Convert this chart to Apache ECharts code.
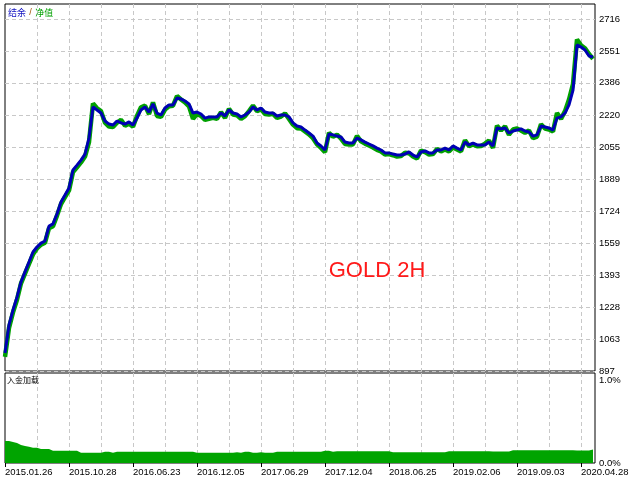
<!DOCTYPE html>
<html><head><meta charset="utf-8">
<script src="https://cdn.jsdelivr.net/npm/echarts@6/dist/echarts.min.js"></script>
<style>html,body{margin:0;padding:0;background:#fff}#c{width:640px;height:480px}</style>
</head><body><div id="c"></div>
<script>
// ---- data ----
const dateLabels = ['2015.01.26','2015.10.28','2016.06.23','2016.12.05','2017.06.29','2017.12.04','2018.06.25','2019.02.06','2019.09.03','2020.04.28'];
const priceTicks = [897,1063,1228,1393,1559,1724,1889,2055,2220,2386,2551,2716];
const loadTicks = [0, 1.0];
const balance = [
 990,1135,1212,1279,1357,1409,1460,1512,1538,1558,1569,1646,1657,1708,1770,1806,1843,1936,1961,1987,
 2018,2101,2261,2246,2230,2189,2173,2168,2189,2179,2173,2184,2168,2204,2246,2261,2235,2277,2230,2220,
 2256,2272,2272,2308,2303,2292,2277,2230,2235,2225,2204,2210,2210,2210,2230,2215,2246,2230,2225,2210,
 2220,2235,2261,2246,2256,2235,2230,2230,2215,2220,2220,2210,2179,2163,2158,2142,2127,2111,2075,2060,
 2039,2122,2117,2111,2106,2080,2075,2075,2101,2091,2080,2070,2060,2049,2039,2024,2024,2018,2013,2013,
 2018,2029,2013,2003,2029,2034,2024,2024,2039,2039,2049,2039,2060,2049,2039,2080,2065,2075,2065,2065,
 2065,2080,2060,2153,2148,2153,2127,2137,2142,2148,2137,2132,2111,2117,2163,2158,2153,2142,2204,2210,
 2230,2272,2349,2582,2571,2556,2525,2520];
const equity = [
 970,1120,1200,1265,1350,1400,1450,1500,1530,1550,1560,1635,1645,1700,1760,1795,1830,1925,1950,1975,
 2005,2080,2280,2255,2240,2180,2160,2158,2180,2195,2165,2175,2160,2215,2260,2268,2225,2285,2215,2210,
 2248,2265,2268,2318,2300,2285,2265,2200,2225,2215,2195,2200,2205,2200,2235,2205,2252,2222,2218,2200,
 2214,2240,2268,2240,2250,2225,2222,2226,2205,2212,2228,2200,2170,2152,2150,2135,2120,2100,2068,2050,
 2028,2128,2108,2118,2098,2070,2068,2068,2112,2084,2072,2062,2052,2040,2032,2016,2018,2012,2005,2008,
 2025,2022,2005,1995,2036,2028,2016,2018,2045,2032,2042,2032,2052,2042,2032,2090,2058,2068,2058,2060,
 2072,2088,2050,2165,2140,2162,2118,2145,2150,2140,2128,2140,2100,2108,2172,2150,2145,2135,2230,2200,
 2240,2300,2380,2610,2580,2565,2535,2510];
const depositLoad = [
 0.265,0.253,0.241,0.217,0.205,0.196,0.184,0.184,0.169,0.169,0.169,0.148,0.148,0.148,0.148,0.148,0.148,0.148,0.124,0.124,
 0.124,0.124,0.124,0.124,0.136,0.136,0.124,0.136,0.136,0.136,0.136,0.136,0.136,0.136,0.136,0.136,0.136,0.136,0.136,0.136,
 0.136,0.136,0.136,0.136,0.136,0.136,0.136,0.124,0.124,0.124,0.124,0.124,0.124,0.124,0.124,0.124,0.124,0.130,0.124,0.136,
 0.136,0.124,0.124,0.130,0.124,0.124,0.124,0.136,0.136,0.136,0.136,0.136,0.136,0.136,0.136,0.136,0.136,0.136,0.136,0.148,
 0.148,0.136,0.142,0.142,0.142,0.142,0.142,0.142,0.142,0.142,0.142,0.142,0.142,0.142,0.142,0.142,0.130,0.130,0.130,0.130,
 0.130,0.130,0.130,0.130,0.130,0.130,0.130,0.130,0.130,0.130,0.142,0.142,0.142,0.142,0.142,0.142,0.142,0.142,0.142,0.142,
 0.142,0.138,0.138,0.138,0.138,0.138,0.155,0.155,0.155,0.155,0.155,0.155,0.155,0.155,0.155,0.155,0.155,0.155,0.155,0.155,
 0.155,0.155,0.152,0.152,0.152,0.152,0.163,0.163];

// ---- chart ----
const STEP = 2;                       // category slots per data point
const slotCount = (balance.length - 1) * STEP + 2;
const slots = Array.from({length: slotCount}, (_, k) => String(k));
const pairs = arr => arr.map((v, i) => [i * STEP, v]);

const FONT = 'Liberation Sans';
const gridLine = {show: true, interval: (i) => i % 16 === 0 && i > 0, lineStyle: {type: [4, 3], color: '#c8c8c8', width: 1}};

const chart = echarts.init(document.getElementById('c'), null, {renderer: 'canvas'});
chart.setOption({
  animation: false,
  backgroundColor: '#fff',
  grid: [
    {left: 5, right: 45, top: 4, height: 367, show: true, borderColor: '#000', borderWidth: 1, backgroundColor: 'transparent'},
    {left: 5, right: 45, top: 373, height: 90, show: true, borderColor: '#000', borderWidth: 1, backgroundColor: 'transparent'}
  ],
  xAxis: [
    {gridIndex: 0, type: 'category', data: slots, boundaryGap: false,
     axisLine: {show: false}, axisTick: {show: false}, axisLabel: {show: false}, splitLine: gridLine},
    {gridIndex: 1, type: 'category', data: slots, boundaryGap: false,
     axisLine: {show: false},
     axisTick: {show: true, interval: (i) => i % 32 === 0, length: 4, lineStyle: {color: '#000'}},
     axisLabel: {show: true, interval: (i) => i % 32 === 0, align: 'left', margin: 4,
                 color: '#000', fontSize: 9.5, fontFamily: FONT,
                 formatter: (v) => dateLabels[Number(v) / 32] || ''},
     splitLine: gridLine}
  ],
  yAxis: [
    {gridIndex: 0, type: 'value', position: 'right', min: 897, max: 2793.5,
     axisLine: {show: false},
     axisTick: {show: false, customValues: priceTicks},
     axisLabel: {customValues: priceTicks, margin: 4, color: '#000', fontSize: 9.5, fontFamily: FONT,
                 formatter: (v) => String(Math.round(v))},
     splitLine: {show: true, lineStyle: {type: [4, 3], color: '#c8c8c8', width: 1}}},
    {gridIndex: 1, type: 'value', position: 'right', min: 0, max: 1.084,
     axisLine: {show: false},
     axisTick: {show: false, customValues: loadTicks},
     axisLabel: {customValues: loadTicks, margin: 4, color: '#000', fontSize: 9.5, fontFamily: FONT,
                 formatter: (v) => v.toFixed(1) + '%'},
     splitLine: {show: false}}
  ],
  series: [
    {name: '净值', type: 'line', xAxisIndex: 0, yAxisIndex: 0, data: pairs(equity),
     symbol: 'none', lineStyle: {color: '#00a000', width: 4.5}, z: 2},
    {name: '结余', type: 'line', xAxisIndex: 0, yAxisIndex: 0, data: pairs(balance),
     symbol: 'none', lineStyle: {color: '#0000b4', width: 3}, z: 3},
    {name: '入金加载', type: 'line', xAxisIndex: 1, yAxisIndex: 1, data: pairs(depositLoad),
     step: 'end', symbol: 'none', lineStyle: {width: 0}, areaStyle: {color: '#00a400', opacity: 1}, z: 2}
  ],
  graphic: [
    {type: 'text', left: 8, top: 7, z: 10, style: {
      text: '{b|结余} {s|/} {g|净值}',
      rich: {
        b: {fill: '#1010c0', fontSize: 9, fontFamily: 'Noto Sans CJK SC'},
        s: {fill: '#a05000', fontSize: 9, fontFamily: FONT},
        g: {fill: '#00a000', fontSize: 9, fontFamily: 'Noto Sans CJK SC'}
      }}},
    {type: 'text', left: 7, top: 376, z: 10, style: {
      text: '入金加载', fill: '#000', fontSize: 8, fontFamily: 'Noto Sans CJK SC'}},
    {type: 'text', x: 377, y: 271, z: 10, style: {
      text: 'GOLD 2H', fill: '#ff1a1a', fontSize: 22, fontFamily: FONT, align: 'center', verticalAlign: 'middle'}}
  ]
});
</script>
</body></html>
